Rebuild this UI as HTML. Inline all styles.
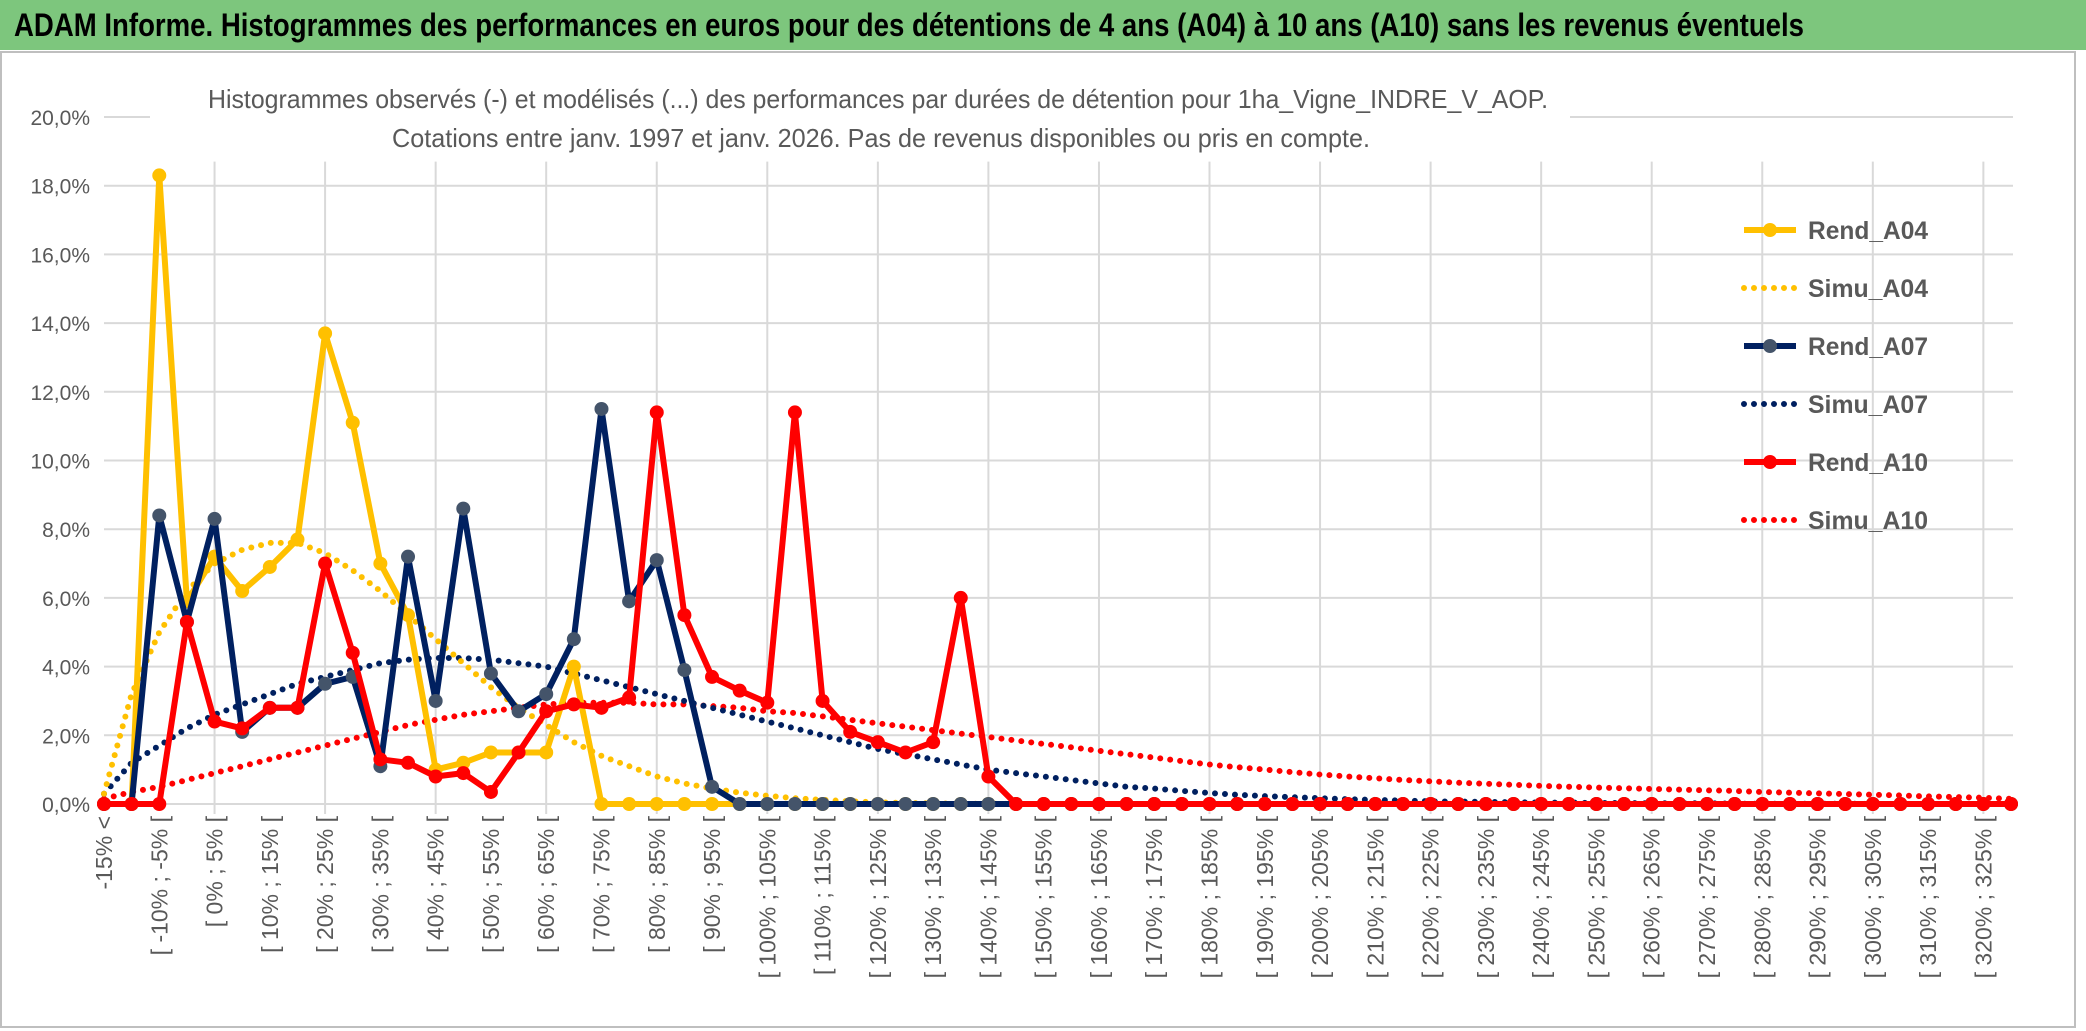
<!DOCTYPE html>
<html><head><meta charset="utf-8"><style>
html,body{margin:0;padding:0;background:#fff;}
svg{display:block;font-family:"Liberation Sans",sans-serif;}
</style></head><body>
<svg id="chart" width="2086" height="1031" viewBox="0 0 2086 1031" xmlns="http://www.w3.org/2000/svg">
<rect x="0" y="0" width="2086" height="1031" fill="#fff"/>
<rect x="1" y="52" width="2074" height="975" fill="none" stroke="#bfbfbf" stroke-width="2"/>
<rect x="0" y="0" width="2086" height="50" fill="#7dc67d"/>
<text x="14" y="36" font-size="32" font-weight="bold" fill="#000" textLength="1790" lengthAdjust="spacingAndGlyphs">ADAM Informe. Histogrammes des performances en euros pour des détentions de 4 ans (A04) à 10 ans (A10) sans les revenus éventuels</text>
<g id="grid"></g>
<rect x="150" y="78" width="1420" height="80" fill="#fff"/>
<text x="878" y="108" font-size="26" fill="#595959" text-anchor="middle" textLength="1340" lengthAdjust="spacingAndGlyphs">Histogrammes observés (-) et modélisés (...) des performances par durées de détention pour 1ha_Vigne_INDRE_V_AOP.</text>
<text x="881" y="147" font-size="26" fill="#595959" text-anchor="middle" textLength="978" lengthAdjust="spacingAndGlyphs">Cotations entre janv. 1997 et janv. 2026. Pas de revenus disponibles ou pris en compte.</text>
<g id="axes"></g>
<g id="series"></g>
<g id="legend"></g>
</svg>
<script>
const yTicks = [0,2,4,6,8,10,12,14,16,18,20];
const rendA04 = [0,0,18.3,5.9,7.2,6.2,6.9,7.7,13.7,11.1,7.0,5.5,1.0,1.2,1.5,1.5,1.5,4.0,0,0,0,0,0,0,0,0,0,0,0,0,0,0,0,0,0];
const simuA04 = [0.3,3.2,5.0,6.2,7.0,7.4,7.6,7.6,7.3,6.8,6.2,5.5,4.8,4.1,3.4,2.8,2.3,1.8,1.4,1.1,0.8,0.6,0.45,0.33,0.24,0.17,0.12,0.08,0.05,0.03,0.02,0.01,0.01,0,0];
const rendA07 = [0,0,8.4,5.3,8.3,2.1,2.8,2.8,3.5,3.7,1.1,7.2,3.0,8.6,3.8,2.7,3.2,4.8,11.5,5.9,7.1,3.9,0.5,0,0,0,0,0,0,0,0,0,0,0,0,0];
const simuA07 = [0.3,1.2,1.7,2.2,2.6,2.9,3.2,3.5,3.7,3.9,4.1,4.2,4.25,4.25,4.2,4.1,4.0,3.8,3.6,3.4,3.2,3.0,2.8,2.6,2.4,2.2,2.0,1.8,1.6,1.45,1.3,1.15,1.0,0.9,0.8,0.7,0.6,0.5,0.45,0.38,0.32,0.27,0.23,0.2,0.17,0.14,0.12,0.1,0.08,0.07,0.06,0.05,0.04,0.04,0.03,0.03,0.02,0.02,0.02,0.01,0.01,0.01,0.01,0.01,0,0,0,0,0,0];
const rendA10 = [0,0,0,5.3,2.4,2.2,2.8,2.8,7.0,4.4,1.3,1.2,0.8,0.9,0.35,1.5,2.7,2.9,2.8,3.1,11.4,5.5,3.7,3.3,2.95,11.4,3.0,2.1,1.8,1.5,1.8,6.0,0.8,0,0,0,0,0,0,0,0,0,0,0,0,0,0,0,0,0,0,0,0,0,0,0,0,0,0,0,0,0,0,0,0,0,0,0,0,0];
const simuA10 = [0.15,0.35,0.5,0.7,0.9,1.1,1.3,1.5,1.7,1.9,2.1,2.3,2.45,2.6,2.7,2.8,2.9,2.95,2.95,2.95,2.9,2.9,2.85,2.8,2.7,2.65,2.55,2.45,2.35,2.25,2.15,2.05,1.95,1.85,1.75,1.65,1.55,1.45,1.35,1.25,1.15,1.07,1.0,0.93,0.86,0.8,0.75,0.7,0.66,0.62,0.59,0.56,0.53,0.5,0.48,0.46,0.44,0.42,0.4,0.38,0.35,0.33,0.31,0.29,0.27,0.25,0.22,0.2,0.18,0.15];
const nCats = 70;

const NS = "http://www.w3.org/2000/svg";
const X0 = 104, X1 = 2011, Y0 = 804, Y1 = 117;
function xPos(i){ return X0 + i*(X1-X0)/(nCats-1); }
function yPos(v){ return Y0 - v/20*(Y0-Y1); }
function catLabel(i){
  if(i===0) return "-15% <";
  const lo = -15 + 5*(i-1);
  return "[ " + lo + "% ; " + (lo+5) + "% [";
}
function mk(tag, attrs, parent){
  const e = document.createElementNS(NS, tag);
  for(const k in attrs) e.setAttribute(k, attrs[k]);
  parent.appendChild(e);
  return e;
}
const grid = document.getElementById('grid');
const axes = document.getElementById('axes');
yTicks.forEach(t=>{
  const l = mk('line',{x1:X0,x2:X1+2,y1:yPos(t),y2:yPos(t),stroke:'#d9d9d9','stroke-width':2},grid);
  
  
  const tx = mk('text',{x:90,y:yPos(t)+8,'font-size':21,fill:'#595959','text-anchor':'end'},axes);
  tx.textContent = t.toFixed(1).replace('.',',') + '%';
  
  
});
for(let i=4;i<nCats;i+=4){
  const l = mk('line',{x1:xPos(i),x2:xPos(i),y1:yPos(18.7),y2:Y0+10,stroke:'#d9d9d9','stroke-width':2},grid);
  
  
}
for(let i=0;i<nCats;i+=2){
  const x = xPos(i)+8, y = 816;
  const tx = mk('text',{x:x,y:y,'font-size':23,fill:'#595959','text-anchor':'end',transform:'rotate(-90 '+x+' '+y+')'},axes);
  tx.textContent = catLabel(i);
  
  
}
const series = document.getElementById('series');
function pts(arr){ return arr.map((v,i)=>xPos(i).toFixed(1)+','+yPos(v).toFixed(1)).join(' '); }
function full(arr){ const a = arr.slice(); while(a.length<nCats) a.push(0); return a; }
function drawDotted(arr,color,name){
  const p = mk('polyline',{points:pts(full(arr)),fill:'none',stroke:color,'stroke-width':6,'stroke-linecap':'round','stroke-dasharray':'0 10'},series);
  
  
}
function drawSolid(arr,color,mColor,name){
  const a = full(arr);
  const g = mk('g',{},series);
  
  
  mk('polyline',{points:pts(a),fill:'none',stroke:color,'stroke-width':6,'stroke-linejoin':'round'},g);
  a.forEach((v,i)=>{
    const c = mk('circle',{cx:xPos(i),cy:yPos(v),r:7,fill:mColor},g);
    
    
  });
}
drawDotted(simuA10,'#ff0000','simu-a10-line');
drawDotted(simuA07,'#002060','simu-a07-line');
drawDotted(simuA04,'#ffc000','simu-a04-line');
drawSolid(rendA04,'#ffc000','#ffc000','rend-a04-line');
drawSolid(rendA07,'#002060','#44546a','rend-a07-line');
drawSolid(rendA10,'#ff0000','#ff0000','rend-a10-line');

const legend = document.getElementById('legend');
const legNames = ['Rend_A04','Simu_A04','Rend_A07','Simu_A07','Rend_A10','Simu_A10'];
const legColors = ['#ffc000','#ffc000','#002060','#002060','#ff0000','#ff0000'];
const legY = [230,288,346,404,462,520];
legNames.forEach((n,k)=>{
  const g = mk('g',{},legend);
  
  
  const dotted = n.startsWith('Simu');
  mk('line',{x1:1744,x2:1796,y1:legY[k],y2:legY[k],stroke:legColors[k],'stroke-width':6,'stroke-linecap':dotted?'round':'butt','stroke-dasharray':dotted?'0 10':'none'},g);
  if(!dotted) mk('circle',{cx:1770,cy:legY[k],r:7,fill:legColors[k]==='#002060'?'#44546a':legColors[k]},g);
  const t = mk('text',{x:1808,y:legY[k]+9,'font-size':25,'font-weight':'bold',fill:'#595959',textLength:120,lengthAdjust:'spacingAndGlyphs'},g);
  t.textContent = n;
});
</script>
</body></html>
